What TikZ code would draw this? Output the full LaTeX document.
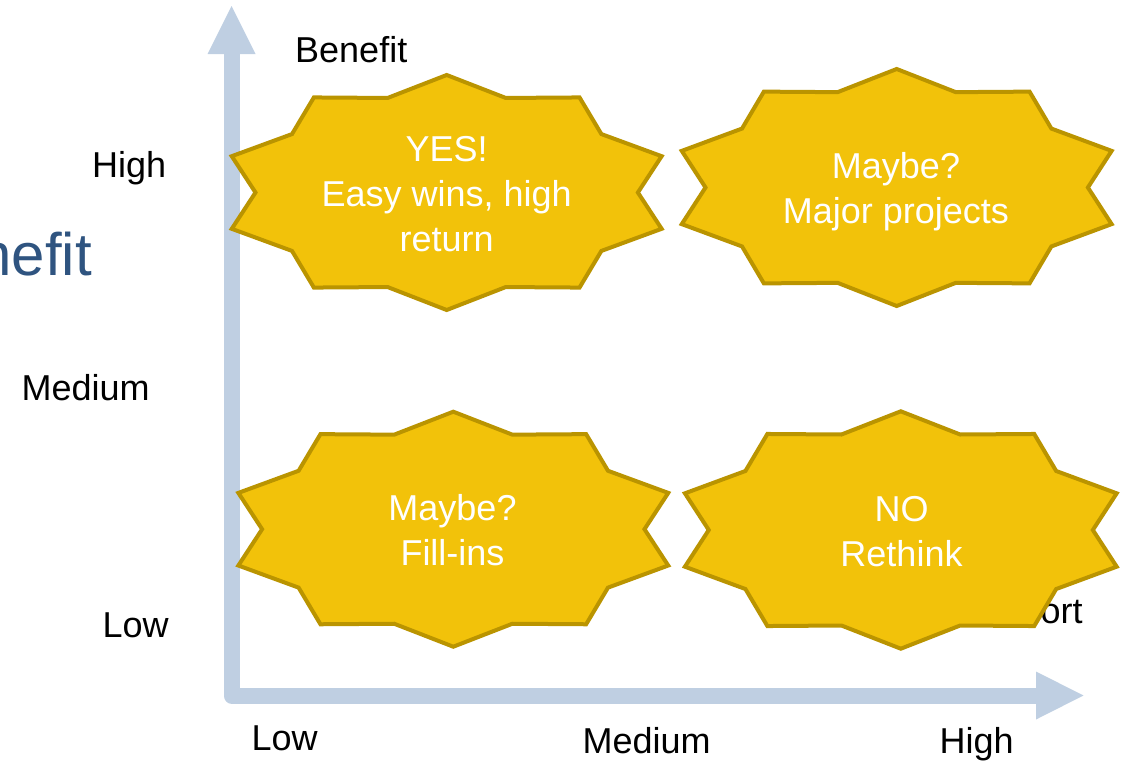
\documentclass[tikz,border=0pt]{standalone}
\usepackage{fontspec}
\setmainfont{Liberation Sans}
\usetikzlibrary{calc}
\definecolor{axisblue}{RGB}{191,207,226}
\definecolor{starfill}{RGB}{242,194,10}
\definecolor{stardraw}{RGB}{186,148,0}
\definecolor{titleblue}{RGB}{47,84,128}
\tikzset{
  axisline/.style={draw=axisblue,line width=16pt,line join=round},
  axishead/.style={fill=axisblue,draw=none},
  burst/.style={fill=starfill,draw=stardraw,line width=4pt,line join=miter},
  lbl/.style={font=\fontsize{36}{43}\selectfont,text=black,inner sep=0pt,anchor=base west},
  startext/.style={font=\fontsize{36}{45}\selectfont,text=white,inner sep=0pt,align=center,anchor=base},
}
\newcommand\burststar[5]{%
  \draw[burst] (#2,{#3-#5})
    \foreach \i in {1,...,19}{
      -- ({#2+#4*(1-0.154*mod(\i,2))*cos(90+18*\i)},{#3-#5*(1-0.154*mod(\i,2))*sin(90+18*\i)})
    } -- cycle;
  \coordinate (#1) at (#2,#3);
}
\begin{document}
\begin{tikzpicture}[x=1pt,y=-1pt]
\useasboundingbox (0,0) rectangle (1122,761);
\begin{scope}
\clip (0,0) rectangle (1122,761);
\node[font=\fontsize{60}{70}\selectfont,text=titleblue,inner sep=0pt,anchor=base east] (bigtitle) at (92,275) {Benefit};
\end{scope}
% axes
\coordinate (ytip) at (231.5,6);
\coordinate (ybase) at (231.5,54);
\coordinate (origin) at (231.5,695.5);
\coordinate (xbase) at (1036,695.5);
\coordinate (xtip) at (1083.5,695.5);
\draw[axisline] (ybase) -- (origin) -- (xbase);
\fill[axishead] (ytip) -- ($(ybase)+(-24,0)$) -- ($(ybase)+(24,0)$) -- cycle;
\fill[axishead] (xtip) -- ($(xbase)+(0,-24)$) -- ($(xbase)+(0,24)$) -- cycle;
% axis labels
\node[lbl] (ylabel) at (295,62) {Benefit};
\node[lbl] (xlabel) at (997,623.5) {Effort};
\node[lbl] (yhigh) at (92,177.7) {High};
\node[lbl] (ymed) at (21.5,400.7) {Medium};
\node[lbl] (ylow) at (102.5,637.7) {Low};
\node[lbl] (xlow) at (251.5,750) {Low};
\node[lbl] (xmed) at (582.5,753) {Medium};
\node[lbl] (xhigh) at (939.5,753) {High};
% stars
\burststar{s1}{446.7}{192.5}{226}{117.5}
\burststar{s2}{896.7}{187.5}{226}{118.5}
\burststar{s3}{453.3}{529.2}{226}{117.5}
\burststar{s4}{900.8}{530}{227}{118.7}
\node[startext] (t1) at (446.7,251.7) {YES!\\Easy wins, high\\return};
\node[startext] (t2) at (896,223.3) {Maybe?\\Major projects};
\node[startext] (t3) at (452.5,565) {Maybe?\\Fill-ins};
\node[startext] (t4) at (901.5,566.7) {NO\\Rethink};
\end{tikzpicture}
\end{document}
